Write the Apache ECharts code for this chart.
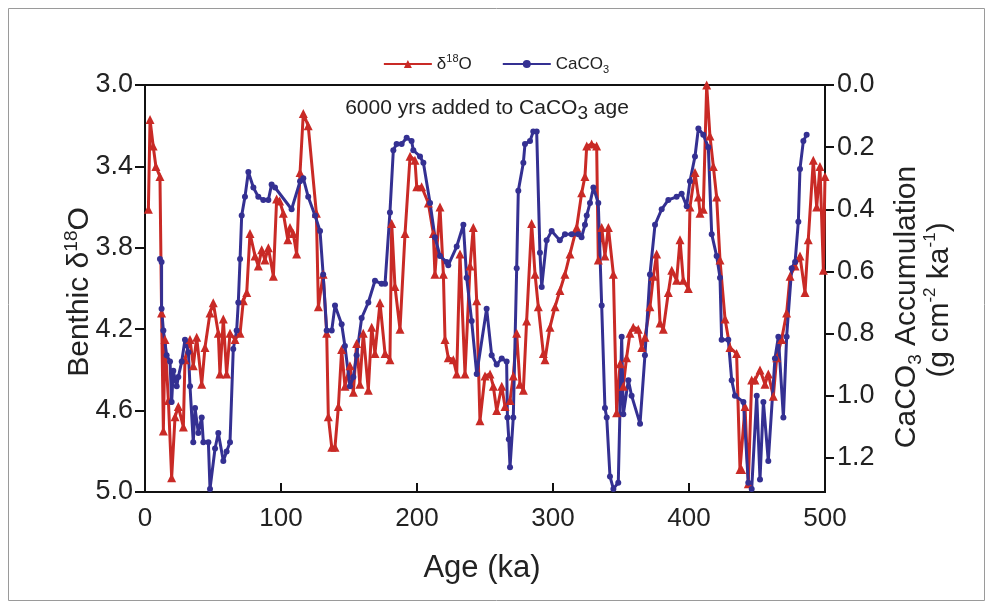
<!DOCTYPE html>
<html>
<head>
<meta charset="utf-8">
<script src="https://cdn.jsdelivr.net/npm/echarts@6/dist/echarts.min.js"></script>
<style>
html,body{margin:0;padding:0;background:#fff;}
#chart{width:992px;height:605px;}
</style>
</head>
<body>
<div id="chart"></div>
<script>
// ---- Data ----
const ageTicks = [0, 100, 200, 300, 400, 500];
const d18OTicks = [3.0, 3.4, 3.8, 4.2, 4.6, 5.0];
const caco3Ticks = [0.0, 0.2, 0.4, 0.6, 0.8, 1.0, 1.2];

const d18OAge = [2.5, 3.7, 6, 8, 11, 12.2, 13.5, 14.7, 17.2, 19.6, 22.1, 24.5, 28.2, 29.4, 33.1, 35.5, 38, 41.7, 44.1, 47.8, 50.2, 53.9, 55.1, 57.6, 60, 62.5, 66.2, 69.9, 72.3, 74.8, 77.2, 80.9, 83.3, 85.8, 88.2, 90.7, 94.4, 96.8, 99, 101.7, 105, 106.6, 109, 111.5, 114, 116.4, 120, 126, 127.5, 131, 133.6, 134.8, 137.3, 139.7, 142.2, 144.6, 147, 150.7, 153.2, 155.6, 158, 160.5, 164.2, 166.7, 169.1, 172.8, 176.5, 180.1, 181.4, 183.8, 187.5, 191.2, 194.9, 198.5, 199.8, 203.4, 208.3, 212, 213.2, 216.9, 219.4, 220.6, 223, 226.7, 229.2, 231.6, 235.3, 239, 241.4, 243.9, 246.3, 250, 253.7, 256.1, 258.6, 262.3, 264.7, 268.4, 270.8, 273.3, 275.7, 278.2, 280.6, 284.3, 286.8, 289.2, 292.9, 294.1, 297.8, 301.5, 305.1, 308.8, 312.5, 317.4, 321.1, 323.5, 324.8, 328.4, 332.1, 333.3, 335.8, 338.2, 340.7, 344.4, 346.8, 349.3, 351.7, 354.1, 356.6, 359, 362.7, 365.2, 367.6, 371.3, 373.8, 376.2, 378.7, 381.1, 384.8, 387.3, 390.9, 393.4, 395.8, 399.5, 400.7, 404.4, 406.9, 408.1, 410.5, 413, 415.4, 417.9, 420.3, 422.8, 426.5, 430.1, 435, 437.5, 438.7, 441.2, 443.6, 446.1, 448.5, 452.2, 455.9, 458.3, 462, 464.5, 468.1, 471.8, 474.3, 478, 481.6, 485.3, 487.7, 491.4, 493.9, 496.3, 498.8, 500];
const d18OValue = [3.61, 3.17, 3.30, 3.40, 3.45, 4.12, 4.70, 4.25, 4.55, 4.93, 4.63, 4.58, 4.68, 4.35, 4.25, 4.38, 4.24, 4.47, 4.29, 4.12, 4.07, 4.22, 4.42, 4.15, 4.42, 4.22, 4.25, 4.22, 4.06, 4.02, 3.73, 3.84, 3.89, 3.81, 3.86, 3.80, 3.94, 3.56, 3.57, 3.63, 3.76, 3.70, 3.73, 3.83, 3.43, 3.14, 3.20, 3.63, 4.09, 3.93, 4.22, 4.63, 4.78, 4.78, 4.58, 4.30, 4.48, 4.38, 4.51, 4.27, 4.47, 4.22, 4.50, 4.19, 4.32, 4.07, 4.32, 4.35, 3.68, 3.99, 4.20, 3.73, 3.35, 3.37, 3.50, 3.50, 3.58, 3.73, 3.93, 3.60, 3.93, 4.25, 4.34, 4.35, 4.42, 3.83, 4.42, 3.89, 3.70, 4.06, 4.65, 4.43, 4.42, 4.48, 4.60, 4.48, 4.58, 4.55, 4.43, 4.22, 4.47, 4.50, 4.16, 3.68, 3.93, 4.09, 4.32, 4.35, 4.19, 4.09, 4.01, 3.93, 3.83, 3.70, 3.53, 3.45, 3.30, 3.29, 3.30, 3.86, 3.70, 3.84, 3.70, 3.93, 4.61, 4.37, 4.48, 4.34, 4.22, 4.19, 4.20, 4.29, 4.24, 4.09, 3.94, 3.83, 4.17, 4.20, 4.02, 3.91, 3.96, 3.76, 3.96, 4.00, 3.60, 3.43, 3.55, 3.63, 3.61, 3.00, 3.25, 3.40, 3.55, 3.86, 4.15, 4.29, 4.32, 4.89, 4.89, 4.58, 4.96, 4.45, 4.45, 4.40, 4.47, 4.42, 4.53, 4.34, 4.25, 4.12, 3.94, 3.89, 3.84, 4.02, 3.76, 3.37, 3.60, 3.40, 3.91, 3.45];

const caco3Age = [11, 12.2, 12.2, 13.5, 15.9, 18.4, 19.6, 20.8, 23.3, 24.5, 27, 29.4, 31.9, 33.1, 35.5, 36.8, 39.2, 41.7, 42.9, 46.6, 47.8, 51.5, 53.9, 57.6, 60, 62.5, 64.9, 67.4, 68.6, 69.9, 71.1, 73.5, 76, 79.7, 83.3, 87, 90.7, 93.1, 95.6, 107.8, 114, 116.4, 120, 125, 128.7, 131, 133.6, 137.3, 139.7, 144.6, 147, 150.7, 153.2, 155.6, 159.3, 164.2, 169.1, 174, 176.5, 180.1, 182.6, 185, 188.7, 192.4, 196, 197.3, 202.2, 204.7, 209.6, 213.2, 216.9, 221.8, 223, 229.2, 234.1, 236.5, 240.2, 243.9, 251.2, 254.9, 258.6, 262.3, 265.9, 266.5, 267.5, 268.4, 270.8, 273.3, 274.5, 278.2, 279.4, 283.1, 285.5, 288, 290.4, 291.7, 295.3, 299, 305, 308.8, 313.7, 318.6, 321, 323.5, 324.8, 327.2, 329.7, 333.3, 335.8, 338.2, 339.5, 341.9, 344.4, 348, 350.5, 351.7, 355.4, 357.8, 364, 367.6, 371.3, 375, 379.9, 384.8, 390.9, 394.6, 398.3, 400.7, 404.4, 406.9, 410.5, 414.2, 416.7, 420.3, 422.8, 424, 428.9, 431.4, 433.8, 440, 443.6, 446.1, 449.8, 452.2, 454.7, 458.3, 463.2, 465.7, 469.4, 471.8, 475.5, 478, 480.4, 481.6, 484.1, 486.5];
const caco3Value = [0.56, 0.57, 0.72, 0.79, 0.87, 0.89, 1.02, 0.92, 0.97, 0.94, 0.89, 0.82, 0.86, 0.97, 1.15, 1.04, 1.12, 1.07, 1.15, 1.15, 1.30, 1.17, 1.12, 1.21, 1.18, 1.15, 0.85, 0.79, 0.70, 0.56, 0.42, 0.36, 0.28, 0.33, 0.36, 0.37, 0.37, 0.32, 0.33, 0.40, 0.31, 0.30, 0.36, 0.42, 0.47, 0.61, 0.79, 0.79, 0.71, 0.77, 0.84, 0.97, 0.94, 0.87, 0.75, 0.70, 0.63, 0.64, 0.64, 0.41, 0.21, 0.19, 0.19, 0.17, 0.18, 0.21, 0.23, 0.25, 0.38, 0.49, 0.55, 0.57, 0.58, 0.52, 0.45, 0.62, 0.76, 0.93, 0.72, 0.87, 0.90, 0.88, 0.89, 1.07, 1.14, 1.23, 1.07, 0.59, 0.34, 0.25, 0.19, 0.18, 0.15, 0.15, 0.54, 0.65, 0.50, 0.47, 0.50, 0.48, 0.48, 0.48, 0.49, 0.45, 0.42, 0.38, 0.33, 0.38, 0.71, 1.04, 1.07, 1.26, 1.30, 1.28, 0.81, 1.06, 0.95, 1.00, 1.09, 0.87, 0.61, 0.45, 0.40, 0.37, 0.36, 0.35, 0.39, 0.31, 0.23, 0.14, 0.16, 0.20, 0.48, 0.55, 0.62, 0.82, 0.82, 0.95, 1.00, 1.02, 1.28, 1.30, 1.00, 1.27, 1.02, 1.21, 0.88, 0.81, 1.07, 0.81, 0.59, 0.57, 0.44, 0.27, 0.18, 0.16];

const RED = '#c92a26';
const BLUE = '#343092';
const FONT = "'Liberation Sans', Arial, sans-serif";
const INK = '#111';

const chart = echarts.init(document.getElementById('chart'), null, {renderer: 'canvas'});

function fmt1(v) { return Number(v).toFixed(1); }
function leftLabel(v) { return d18OTicks.some(t => Math.abs(t - v) < 1e-6) ? fmt1(v) : ''; }
function rightLabel(v) { return caco3Ticks.some(t => Math.abs(t - v) < 1e-6) ? fmt1(v) : ''; }

const option = {
  animation: false,
  backgroundColor: '#fff',
  textStyle: {fontFamily: FONT},
  grid: {left: 145, right: 167, top: 85, bottom: 113, show: true, borderColor: INK, borderWidth: 2, backgroundColor: 'transparent'},
  legend: {
    top: 48, left: 'center', itemWidth: 48, itemHeight: 10, itemGap: 30,
    data: ['d18O', 'CaCO3'],
    formatter: function (n) { return n === 'd18O' ? '{n|δ}{s|18}{n|O}' : '{n|CaCO}{b|3}'; },
    textStyle: {
      fontFamily: FONT, color: '#222',
      rich: {
        n: {fontSize: 17, fontFamily: FONT, lineHeight: 22, verticalAlign: 'middle'},
        s: {fontSize: 11, fontFamily: FONT, lineHeight: 22, verticalAlign: 'top', padding: [0, 0, 6, 0]},
        b: {fontSize: 11, fontFamily: FONT, lineHeight: 22, verticalAlign: 'bottom', padding: [6, 0, 0, 0]}
      }
    }
  },
  xAxis: {
    type: 'value', min: 0, max: 500, interval: 100, position: 'bottom',
    axisLine: {show: true, onZero: false, lineStyle: {color: INK, width: 2}},
    axisTick: {show: true, inside: true, length: 9, lineStyle: {color: INK, width: 2}},
    axisLabel: {fontSize: 26, color: '#222', fontFamily: FONT, margin: 14},
    splitLine: {show: false}
  },
  yAxis: [{
    type: 'value', min: 3, max: 5, interval: 0.4, inverse: true, position: 'left',
    axisLine: {show: true, onZero: false, lineStyle: {color: INK, width: 2}},
    axisTick: {show: true, length: 10, lineStyle: {color: INK, width: 2}},
    axisLabel: {fontSize: 27, color: '#222', fontFamily: FONT, margin: 12, formatter: leftLabel},
    splitLine: {show: false}
  }, {
    type: 'value', min: 0, max: 1.31, interval: 0.2, inverse: true, position: 'right',
    axisLine: {show: true, onZero: false, lineStyle: {color: INK, width: 2}},
    axisTick: {show: true, length: 9, lineStyle: {color: INK, width: 2}},
    axisLabel: {fontSize: 27, color: '#222', fontFamily: FONT, margin: 12, formatter: rightLabel, showMaxLabel: false},
    splitLine: {show: false}
  }],
  graphic: [
    {type: 'rect', silent: true, shape: {x: 8.5, y: 8.5, width: 976, height: 592},
      style: {fill: 'none', stroke: '#9a9a9a', lineWidth: 1}},
    {type: 'text', x: 80, y: 292, rotation: Math.PI / 2,
      style: {text: '{a|Benthic δ}{s|18}{a|O}', align: 'center', verticalAlign: 'middle',
        rich: {a: {fontSize: 30, fontFamily: FONT, fill: '#222', lineHeight: 36, verticalAlign: 'middle'},
               s: {fontSize: 19, fontFamily: FONT, fill: '#222', lineHeight: 36, verticalAlign: 'top'}}}},
    {type: 'text', x: 907, y: 307, rotation: Math.PI / 2,
      style: {text: '{a|CaCO}{b|3}{a| Accumulation}', align: 'center', verticalAlign: 'middle',
        rich: {a: {fontSize: 30, fontFamily: FONT, fill: '#222', lineHeight: 36, verticalAlign: 'middle'},
               b: {fontSize: 19, fontFamily: FONT, fill: '#222', lineHeight: 36, verticalAlign: 'bottom'}}}},
    {type: 'text', x: 940, y: 300, rotation: Math.PI / 2,
      style: {text: '{a|(g cm}{s|-2}{a| ka}{s|-1}{a|)}', align: 'center', verticalAlign: 'middle',
        rich: {a: {fontSize: 30, fontFamily: FONT, fill: '#222', lineHeight: 36, verticalAlign: 'middle'},
               s: {fontSize: 17, fontFamily: FONT, fill: '#222', lineHeight: 36, verticalAlign: 'top'}}}},
    {type: 'text', x: 482, y: 568,
      style: {text: 'Age (ka)', align: 'center', verticalAlign: 'middle', fontSize: 31, fontFamily: FONT, fill: '#222'}},
    {type: 'text', x: 487, y: 108,
      style: {text: '{a|6000 yrs added to CaCO}{b|3}{a| age}', align: 'center', verticalAlign: 'middle',
        rich: {a: {fontSize: 21, fontFamily: FONT, fill: '#222', lineHeight: 30, verticalAlign: 'middle'},
               b: {fontSize: 19, fontFamily: FONT, fill: '#222', lineHeight: 30, verticalAlign: 'bottom'}}}}
  ],
  series: [{
    name: 'd18O', type: 'line', xAxisIndex: 0, yAxisIndex: 0,
    data: d18OAge.map((a, i) => [a, d18OValue[i]]),
    symbol: 'triangle', symbolSize: 9, showAllSymbol: true,
    lineStyle: {color: RED, width: 3}, itemStyle: {color: RED}, clip: true
  }, {
    name: 'CaCO3', type: 'line', xAxisIndex: 0, yAxisIndex: 1,
    data: caco3Age.map((a, i) => [a, caco3Value[i]]),
    symbol: 'circle', symbolSize: 6, showAllSymbol: true,
    lineStyle: {color: BLUE, width: 3}, itemStyle: {color: BLUE}, clip: true
  }]
};
chart.setOption(option);
</script>
</body>
</html>
